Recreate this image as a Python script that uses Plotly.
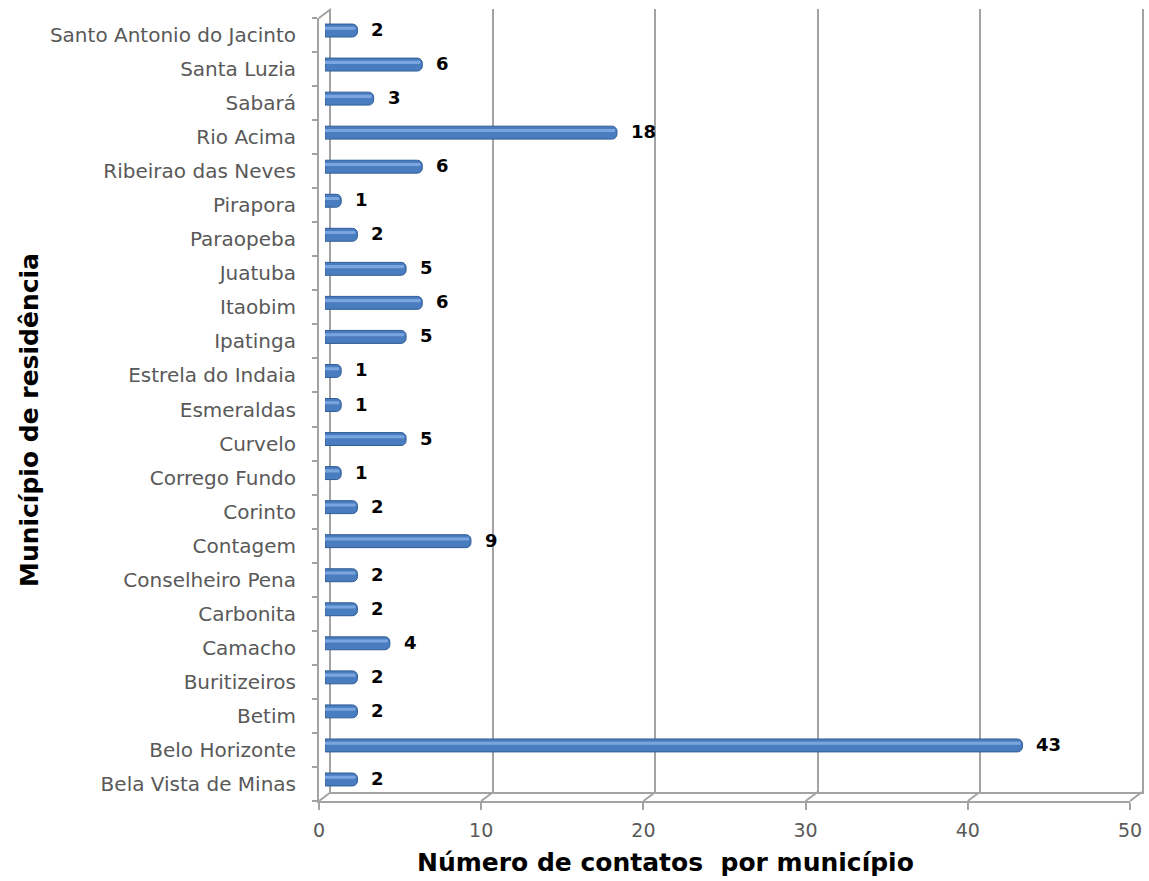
import plotly.graph_objects as go

# Municipalities listed bottom-to-top as they appear on the category axis
municipios = [
    "Bela Vista de Minas", "Belo Horizonte", "Betim", "Buritizeiros", "Camacho",
    "Carbonita", "Conselheiro Pena", "Contagem", "Corinto", "Corrego Fundo",
    "Curvelo", "Esmeraldas", "Estrela do Indaia", "Ipatinga", "Itaobim",
    "Juatuba", "Paraopeba", "Pirapora", "Ribeirao das Neves", "Rio Acima",
    "Sabará", "Santa Luzia", "Santo Antonio do Jacinto",
]
contatos = [2, 43, 2, 2, 4, 2, 2, 9, 2, 1, 5, 1, 1, 5, 6, 5, 2, 1, 6, 18, 3, 6, 2]

x_ticks = [0, 10, 20, 30, 40, 50]
x_max = 50

W, H = 1149, 881

# Pseudo-3D frame: front plane (axes), middle plane (bars), back plane (walls)
front = dict(x0=319, x1=1130, y0=18, y1=801)
depth = (12, -9)          # front -> back offset in pixels
mid_f = 0.5               # bars sit halfway into the depth


def plane(off_frac):
    dx, dy = depth[0] * off_frac, depth[1] * off_frac
    return dict(x0=front["x0"] + dx, x1=front["x1"] + dx,
                y0=front["y0"] + dy, y1=front["y1"] + dy)


mid = plane(mid_f)
back = plane(1.0)


def xdom(p):
    return [p["x0"] / W, p["x1"] / W]


def ydom(p):
    return [1 - p["y1"] / H, 1 - p["y0"] / H]


frame_col = "#a3a3a3"
text_col = "#595959"
label_font = "DejaVu Sans"
bold_font = "DejaVu Sans"

fig = go.Figure()

# back wall (subplot x/y, drawn first so bars cover it)
fig.add_trace(go.Scatter(
    x=[0, x_max], y=[0, 1], mode="markers", marker=dict(opacity=0, size=1),
    hoverinfo="skip", xaxis="x", yaxis="y", showlegend=False,
))
# main bars (subplot x2/y2)
fig.add_trace(go.Bar(
    x=contatos, y=municipios, orientation="h",
    width=0.38, offset=-0.19,
    marker=dict(color="#4a7dbf", line=dict(color="#2f5d96", width=1), cornerradius=5),
    hoverinfo="x+y", xaxis="x2", yaxis="y2",
))
# lighter sheen along the upper half of each bar
fig.add_trace(go.Bar(
    x=[v - 0.12 for v in contatos], y=municipios, orientation="h",
    width=0.09, offset=0.02,
    marker=dict(color="#7ba5de", line=dict(width=0), cornerradius=2),
    hoverinfo="skip", xaxis="x2", yaxis="y2",
))
# invisible trace carrying the front category axis (subplot x3/y3)
fig.add_trace(go.Scatter(
    x=contatos, y=municipios, mode="markers", marker=dict(opacity=0, size=1),
    hoverinfo="skip", xaxis="x3", yaxis="y3", showlegend=False,
))

# value labels at the end of each bar
annotations = []
for m, v in zip(municipios, contatos):
    annotations.append(dict(
        x=v, y=m, xref="x2", yref="y2", text=str(v), showarrow=False,
        xanchor="left", yanchor="middle", xshift=12, yshift=1,
        font=dict(family=bold_font, size=18, color="#000000", weight="bold"),
    ))

# axis titles
annotations.append(dict(
    x=665 / W, y=1 - 862 / H, xref="paper", yref="paper",
    text="Número de contatos  por município", showarrow=False,
    xanchor="center", yanchor="middle",
    font=dict(family=bold_font, size=25, color="#000000", weight="bold"),
))
annotations.append(dict(
    x=29 / W, y=1 - 420 / H, xref="paper", yref="paper",
    text="Município de residência", showarrow=False, textangle=-90,
    xanchor="center", yanchor="middle",
    font=dict(family=bold_font, size=25, color="#000000", weight="bold"),
))

# floor edges joining front ticks to back gridlines, plus the top wall edge
shapes = []
for t in x_ticks:
    fx = (front["x0"] + (front["x1"] - front["x0"]) * t / x_max) / W
    bx = (back["x0"] + (back["x1"] - back["x0"]) * t / x_max) / W
    shapes.append(dict(type="line", xref="paper", yref="paper", layer="below",
                       x0=fx, y0=1 - front["y1"] / H, x1=bx, y1=1 - back["y1"] / H,
                       line=dict(color=frame_col, width=2)))
shapes.append(dict(type="line", xref="paper", yref="paper", layer="below",
                   x0=front["x0"] / W, y0=1 - front["y0"] / H,
                   x1=back["x0"] / W, y1=1 - back["y0"] / H,
                   line=dict(color=frame_col, width=2)))

cat_range = [-0.5, len(municipios) - 0.5]

fig.update_layout(
    width=W, height=H, autosize=False,
    margin=dict(l=0, r=0, t=0, b=0),
    paper_bgcolor="white", plot_bgcolor="rgba(0,0,0,0)",
    showlegend=False, barmode="overlay",
    annotations=annotations, shapes=shapes,
    # back plane: walls and vertical gridlines
    xaxis=dict(domain=xdom(back), anchor="y", range=[0, x_max],
               tickvals=x_ticks, showticklabels=False, ticks="",
               showgrid=True, gridcolor=frame_col, gridwidth=2,
               showline=True, linecolor=frame_col, linewidth=2,
               zeroline=False, automargin=False),
    yaxis=dict(domain=ydom(back), anchor="x", range=[0, 1],
               showticklabels=False, ticks="", showgrid=False,
               showline=True, mirror=True, linecolor=frame_col, linewidth=2,
               zeroline=False, automargin=False),
    # middle plane: bars
    xaxis2=dict(domain=xdom(mid), anchor="y2", range=[0, x_max], visible=False),
    yaxis2=dict(domain=ydom(mid), anchor="x2", type="category",
                categoryorder="array", categoryarray=municipios,
                range=cat_range, visible=False),
    # front plane: axis lines, ticks and labels
    xaxis3=dict(domain=xdom(front), anchor="y3", range=[0, x_max],
                tickvals=x_ticks, ticks="outside", ticklen=7, tickwidth=2,
                tickcolor=frame_col, showgrid=False, zeroline=False,
                showline=True, linecolor=frame_col, linewidth=2,
                tickfont=dict(family=label_font, size=19, color=text_col),
                ticklabelstandoff=4, automargin=False),
    yaxis3=dict(domain=ydom(front), anchor="x3", type="category",
                categoryorder="array", categoryarray=municipios,
                range=cat_range,
                ticks="outside", tickson="boundaries", ticklen=5, tickwidth=2,
                tickcolor=frame_col, showgrid=False, zeroline=False,
                showline=True, linecolor=frame_col, linewidth=2,
                tickfont=dict(family=label_font, size=20, color=text_col),
                ticklabelstandoff=17, automargin=False),
)

fig.write_html("out.html")
